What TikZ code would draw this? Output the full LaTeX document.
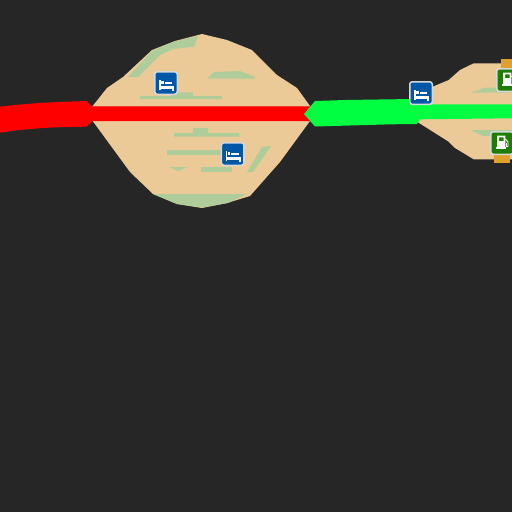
\documentclass[tikz,border=0pt]{standalone}
\definecolor{ground}{HTML}{262626}
\definecolor{sand}{HTML}{EBCA97}
\definecolor{patch}{HTML}{AECD9B}
\definecolor{roadred}{HTML}{FF0000}
\definecolor{roadgreen}{HTML}{00FF40}
\definecolor{bedblue}{HTML}{0057A8}
\definecolor{fuelgreen}{HTML}{1F7D00}
\definecolor{fuelbase}{HTML}{E0A030}
\definecolor{rim}{HTML}{D5D9DC}
\tikzstyle{land}=[fill=sand,draw=none]
\tikzstyle{meadow}=[fill=patch,draw=none]
\tikzstyle{sign}=[shape=rectangle,rounded corners=2.5pt,draw=rim,line width=1.5pt,minimum size=22.5pt,inner sep=0pt]
\tikzstyle{bedsign}=[sign,fill=bedblue]
\tikzstyle{fuelsign}=[sign,fill=fuelgreen]
\tikzset{
  bedglyph/.pic={
    \fill[white] (-7,-2.7) rectangle (-5.3,7.3);
    \fill[white] (-4.7,-1.7) rectangle (-2.3,1);
    \fill[white] (-1.3,-1) rectangle (6.3,1);
    \fill[white] (-7,3.3) rectangle (8.3,5.7);
    \fill[white] (6.3,3.3) rectangle (8.3,7.7);
  },
  fuelglyph/.pic={
    \fill[white,even odd rule] (-5,-7.3) rectangle (3.3,5.3) (-3,-5.7) rectangle (1.7,-2);
    \fill[white] (-6,4) rectangle (4,5.7);
    \draw[white,line width=0.9pt] (3.3,-4) -- (6,-1) -- (6,3.5) -- (4.5,3.5) -- (4.5,0);
  }
}
\begin{document}
\begin{tikzpicture}[x=1pt,y=-1pt]
  \useasboundingbox (0,0) rectangle (512,512);
  \fill[ground] (0,0) rectangle (512,512);
  \clip (0,0) rectangle (512,512);
% land
  \fill[land] (92.7,106) -- (107,88) -- (123,77) -- (152,50) -- (175,41) -- (202,34) -- (227,40)
    -- (252,50) -- (277,75) -- (297,88) -- (310,106) -- (310,121) -- (280,162) -- (250,196)
    -- (227,203) -- (202,208) -- (177,204) -- (153,194) -- (130,172) -- (92.7,121) -- cycle;
  \fill[land] (417,120) -- (432.7,86.7) -- (448.7,80) -- (460,70) -- (473.7,63.3) -- (512,63.3)
    -- (512,159.3) -- (473.7,159.3) -- (455,148) -- (448.7,141.7) -- (417,121.7) -- cycle;
% meadows
  \fill[meadow] (128,77) -- (138,77) -- (160,55) -- (173,49) -- (194,46.7) -- (198,36) -- (173,42) -- (152,51) -- cycle;
  \fill[meadow] (207,78.7) -- (214,72) -- (240,71) -- (255,77) -- (255,78.7) -- cycle;
  \fill[meadow] (140,99) -- (140,96) -- (171,96) -- (171,92.3) -- (193,92.3) -- (193,96) -- (222,96) -- (222,99) -- cycle;
  \fill[meadow] (174,136.7) -- (174,133) -- (193,133) -- (193,128) -- (208,128) -- (208,133) -- (239,133) -- (239,136.7) -- cycle;
  \fill[meadow] (167,155) -- (235,155) -- (235,150) -- (167,150) -- cycle;
  \fill[meadow] (169,167) -- (188,167) -- (178,171) -- cycle;
  \fill[meadow] (201,172) -- (232,172) -- (232,167) -- (201,167) -- cycle;
  \fill[meadow] (247,172) -- (253,172) -- (271,146) -- (262,147) -- cycle;
  \fill[meadow] (153,194) -- (247,194) -- (228,203) -- (202,207.5) -- (177,204) -- cycle;
  \fill[meadow] (471,92.7) -- (485,87.7) -- (512,87.7) -- (512,92.7) -- cycle;
  \fill[meadow] (471,130) -- (512,130) -- (512,136) -- (483,136) -- cycle;
% roads
  \fill[roadred!70!sand] (92,106) rectangle (310,108);
  \fill[roadred] (0,106.7) .. controls (30,103) and (55,102) .. (86.7,101) -- (92.7,107) -- (312,107)
    -- (312,121) -- (92.7,121) -- (86.7,126.7) .. controls (55,127) and (30,128) .. (0,132.7) -- cycle;
  \fill[roadgreen] (304,114) -- (315,101) -- (345,100) -- (392,99.3) -- (417,99) -- (417,104.3) -- (512,104.3)
    -- (512,118.3) -- (420,119.3) -- (417,124) -- (392,124.3) -- (315,126.5) -- cycle;
% fuel bases
  \fill[fuelbase] (501,59.3) rectangle (512,68);
  \fill[fuelbase] (493.7,153.3) rectangle (510.3,163.3);
% signs
  \node[bedsign] (bed1) at (166,83) {};
  \node[bedsign] (bed2) at (232.7,154) {};
  \node[bedsign] (bed3) at (421,93) {};
  \node[fuelsign] (fuel1) at (508,80) {};
  \node[fuelsign] (fuel2) at (502,143) {};
  \pic at (bed1) {bedglyph};
  \pic at (bed2) {bedglyph};
  \pic at (bed3) {bedglyph};
  \pic at (fuel1) {fuelglyph};
  \pic at (fuel2) {fuelglyph};
\end{tikzpicture}
\end{document}
